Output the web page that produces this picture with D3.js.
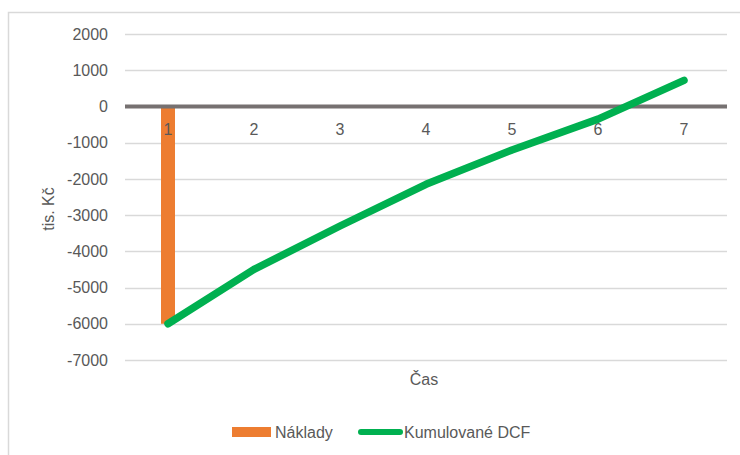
<!DOCTYPE html>
<html>
<head>
<meta charset="utf-8">
<script src="https://cdn.jsdelivr.net/npm/d3@7"></script>
<style>
	body { margin: 0; background: #fff; }
	text { font-family: "Liberation Sans", "DejaVu Sans", sans-serif; }
</style>
</head>
<body>
<div id="chart-area"></div>
<script>
// data
var categories = [1, 2, 3, 4, 5, 6, 7];
var naklady = [-6000, null, null, null, null, null, null];
var kumulovaneDCF = [-6000, -4500, -3300, -2150, -1200, -350, 720];
var yTicks = [2000, 1000, 0, -1000, -2000, -3000, -4000, -5000, -6000, -7000];

var W = 740, H = 455;
var margin = { left: 125, top: 34, right: 13, bottom: 95 };
var width = W - margin.left - margin.right,
	height = H - margin.top - margin.bottom;

var svg = d3.select('#chart-area').append('svg')
	.attr('width', W)
	.attr('height', H);

// chart border
svg.append('rect')
	.attr('x', 8.5).attr('y', 12.5)
	.attr('width', 760).attr('height', 460)
	.attr('fill', 'none')
	.attr('stroke', '#d9d9d9')
	.attr('stroke-width', 1.5);

var g = svg.append('g')
	.attr('transform', 'translate(' + margin.left + ',' + margin.top + ')');

var x = d3.scaleBand().domain(categories).range([0, width]);
var y = d3.scaleLinear().domain([-7000, 2000]).range([height, 0]);

// gridlines
g.append('g')
	.selectAll('line')
	.data(yTicks.filter(d => d != 0))
	.enter().append('line')
		.attr('x1', 0).attr('x2', width)
		.attr('y1', d => Math.round(y(d)) + 0.5)
		.attr('y2', d => Math.round(y(d)) + 0.5)
		.attr('stroke', '#d9d9d9')
		.attr('stroke-width', 1.5);

// y axis labels
var yAxis = d3.axisLeft(y).tickValues(yTicks).tickSize(0).tickPadding(17)
	.tickFormat(d => String(d));
var ya = g.append('g').call(yAxis);
ya.select('.domain').remove();
ya.selectAll('text')
	.attr('fill', '#595959')
	.attr('font-size', '16px')
	.style('font-family', '"Liberation Sans", sans-serif');

// bars
var barW = 14;
g.selectAll('rect.bar')
	.data(categories.map((c, i) => ({ c: c, v: naklady[i] })).filter(d => d.v != null))
	.enter().append('rect')
		.attr('class', 'bar')
		.attr('x', d => x(d.c) + x.bandwidth() / 2 - barW / 2)
		.attr('y', y(0))
		.attr('width', barW)
		.attr('height', d => y(d.v) - y(0))
		.attr('fill', '#ED7D31');

// zero line
g.append('line')
	.attr('x1', 0).attr('x2', width)
	.attr('y1', y(0)).attr('y2', y(0))
	.attr('stroke', '#767171')
	.attr('stroke-width', 4);

// category labels
var xAxis = d3.axisBottom(x).tickSize(0).tickPadding(23);
var xa = g.append('g')
	.attr('transform', 'translate(0,' + y(0) + ')')
	.call(xAxis);
xa.select('.domain').remove();
xa.selectAll('text')
	.attr('fill', '#595959')
	.attr('font-size', '16px')
	.attr('dy', '0.32em')
	.style('font-family', '"Liberation Sans", sans-serif');

// line
var line = d3.line()
	.x((d, i) => x(categories[i]) + x.bandwidth() / 2)
	.y(d => y(d));
g.append('path')
	.datum(kumulovaneDCF)
	.attr('d', line)
	.attr('fill', 'none')
	.attr('stroke', '#00B050')
	.attr('stroke-width', 7.5)
	.attr('stroke-linecap', 'round')
	.attr('stroke-linejoin', 'round');

// axis titles
svg.append('text')
	.attr('transform', 'translate(54,' + (margin.top + height / 2 + 12) + ') rotate(-90)')
	.attr('text-anchor', 'middle')
	.attr('font-size', '16px')
	.attr('fill', '#595959')
	.text('tis. Kč');

svg.append('text')
	.attr('x', 424).attr('y', 385)
	.attr('text-anchor', 'middle')
	.attr('font-size', '16px')
	.attr('fill', '#595959')
	.text('Čas');

// legend
var lg = svg.append('g');
lg.append('rect')
	.attr('x', 232).attr('y', 427)
	.attr('width', 39).attr('height', 10)
	.attr('fill', '#ED7D31');
lg.append('text')
	.attr('x', 275).attr('y', 438)
	.attr('font-size', '16px')
	.attr('fill', '#595959')
	.text('Náklady');
lg.append('line')
	.attr('x1', 361).attr('x2', 400)
	.attr('y1', 432).attr('y2', 432)
	.attr('stroke', '#00B050')
	.attr('stroke-width', 6)
	.attr('stroke-linecap', 'round');
lg.append('text')
	.attr('x', 404).attr('y', 438)
	.attr('font-size', '16px')
	.attr('fill', '#595959')
	.text('Kumulované DCF');
</script>
</body>
</html>
